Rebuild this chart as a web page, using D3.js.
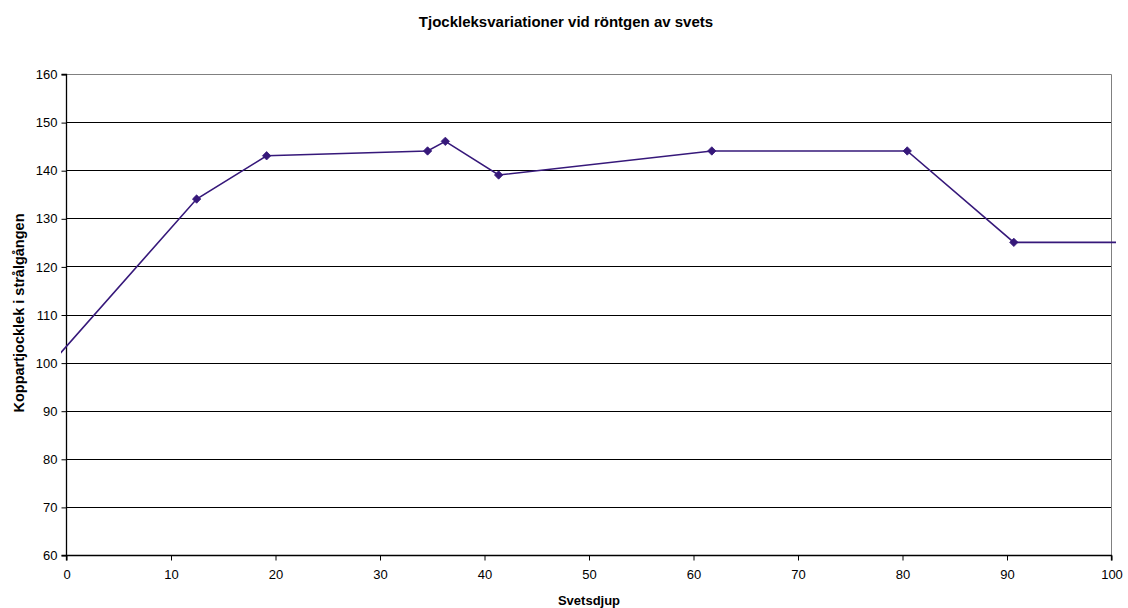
<!DOCTYPE html>
<html>
<head>
<meta charset="utf-8">
<script src="https://cdn.jsdelivr.net/npm/d3@7"></script>
<style>
  html, body { margin: 0; padding: 0; background: #fff; }
  svg { display: block; font-family: "Liberation Sans", Arial, sans-serif; }
</style>
</head>
<body>
<svg id="chart" width="1128" height="608"></svg>
<script>
// Weld depth (x) and copper thickness in the beam path (y)
const depth     = [-5, 12.5, 19.2, 34.6, 36.3, 41.4, 61.8, 80.5, 90.7, 110];
const thickness = [91, 134, 143, 144, 146, 139, 144, 144, 125, 125];
// Measurements that carry a marker (the first and last points only extend the line)
const marked = [1, 2, 3, 4, 5, 6, 7, 8];
const xTicks = [0, 10, 20, 30, 40, 50, 60, 70, 80, 90, 100];
const yTicks = [60, 70, 80, 90, 100, 110, 120, 130, 140, 150, 160];

const titleText = "Tjockleksvariationer vid röntgen av svets";
const xTitle = "Svetsdjup";
const yTitle = "Koppartjocklek i strålgången";

const W = 1128, H = 608;
const m = { left: 66, right: 1111, top: 74, bottom: 555 };
const lineColor = "#36187a";

const svg = d3.select("#chart");

const x = d3.scaleLinear().domain([0, 100]).range([m.left, m.right]);
const y = d3.scaleLinear().domain([60, 160]).range([m.bottom, m.top]);

// Horizontal gridlines
svg.append("g")
  .selectAll("line")
  .data(yTicks.filter(v => v > 60 && v < 160))
  .join("line")
  .attr("x1", m.left).attr("x2", m.right)
  .attr("y1", d => Math.round(y(d)) + 0.5).attr("y2", d => Math.round(y(d)) + 0.5)
  .attr("stroke", "#000").attr("stroke-width", 1);

// Plot-area frame (top and right edges)
svg.append("path")
  .attr("d", `M${m.left},${Math.round(y(160)) + 0.5}H${m.right + 0.5}V${m.bottom}`)
  .attr("fill", "none").attr("stroke", "#808080").attr("stroke-width", 1);

// Axes
const xAxis = d3.axisBottom(x).tickValues(xTicks).tickSize(5).tickPadding(9).tickFormat(d3.format("d"));
const yAxis = d3.axisLeft(y).tickValues(yTicks).tickSize(5).tickPadding(4).tickFormat(d3.format("d"));

const gx = svg.append("g")
  .attr("transform", `translate(0.5,${Math.round(y(60)) + 0.5})`)
  .call(xAxis);
const gy = svg.append("g")
  .attr("transform", `translate(${m.left + 0.5},0.5)`)
  .call(yAxis);

[gx, gy].forEach(g => {
  g.select(".domain").attr("stroke", "#000").attr("stroke-width", 1.3);
  g.selectAll(".tick line").attr("stroke", "#000");
  g.selectAll(".tick text")
    .attr("fill", "#000")
    .style("font-size", "13px")
    .style("font-family", "Liberation Sans, Arial, sans-serif");
});
gy.select(".domain").attr("d", `M-5,${y(60)}H0V${y(160)}H-5`);
gx.select(".domain").attr("d", `M${m.left},5V0H${m.right}V5`);

// Data line, clipped just outside the plot area
svg.append("clipPath").attr("id", "plotClip")
  .append("rect")
  .attr("x", m.left - 5).attr("y", 0)
  .attr("width", (m.right - m.left) + 10).attr("height", H);

const pts = depth.map((d, i) => [d, thickness[i]]);
const line = d3.line().x(d => x(d[0])).y(d => y(d[1]));

svg.append("path")
  .datum(pts)
  .attr("clip-path", "url(#plotClip)")
  .attr("d", line)
  .attr("fill", "none")
  .attr("stroke", lineColor)
  .attr("stroke-width", 1.6);

// Square diamond markers
const r = 4.2;
const diamondPath = `M0,${-r}L${r},0L0,${r}L${-r},0Z`;
svg.append("g")
  .selectAll("path")
  .data(marked.map(i => pts[i]))
  .join("path")
  .attr("transform", d => `translate(${x(d[0])},${y(d[1])})`)
  .attr("d", diamondPath)
  .attr("fill", lineColor)
  .attr("stroke", lineColor)
  .attr("stroke-width", 0.8);

// Titles
svg.append("text")
  .attr("x", 566).attr("y", 27)
  .attr("text-anchor", "middle")
  .style("font-size", "15px").style("font-weight", "bold")
  .text(titleText);

svg.append("text")
  .attr("x", 589).attr("y", 605)
  .attr("text-anchor", "middle")
  .style("font-size", "13px").style("font-weight", "bold")
  .text(xTitle);

svg.append("text")
  .attr("transform", "translate(24,313) rotate(-90)")
  .attr("text-anchor", "middle")
  .style("font-size", "14.5px").style("font-weight", "bold")
  .text(yTitle);
</script>
</body>
</html>
